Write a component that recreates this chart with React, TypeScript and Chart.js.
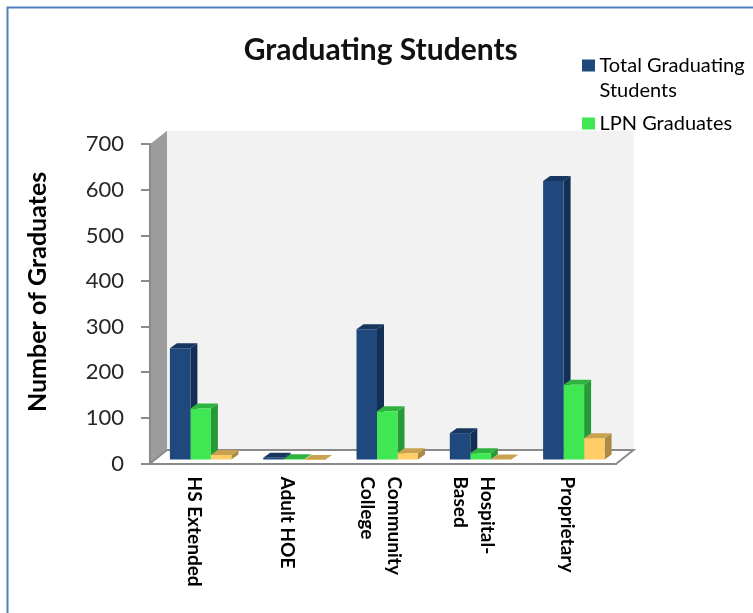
import React, { useEffect, useRef } from "react";
import { Chart, registerables } from "chart.js";

Chart.register(...registerables);

const categories = [["HS Extended"], ["Adult HOE"], ["Community", "College"], ["Hospital-", "Based"], ["Proprietary"]];
const totalGraduates = [246, 6, 288, 60, 613];
const lpnGraduates = [114, 3, 108, 16, 166];
const thirdSeries = [12, 1, 16, 2, 49];
const yTicks = [0, 100, 200, 300, 400, 500, 600, 700];
const legendLines = [["Total Graduating", "Students"], ["LPN Graduates"]];

const FONT = "Lato, 'Open Sans', sans-serif";
const FRONT = ["#1f497d", "#3fe853", "#ffcc66"];
const SIDE = ["#142f56", "#269a36", "#ab8a45"];
const TOP = ["#17375f", "#2fb33f", "#c9a24f"];
const SHIFT = { x: 4, y: -3 };
const DEPTH = { x: 7, y: 5 };
const WALL = { x: 17, y: 13.5 };
const GRAY = "#8a8a8a";

function poly(ctx: any, pts: number[][], fill: string) {
  ctx.beginPath();
  pts.forEach((p, i) => (i ? ctx.lineTo(p[0], p[1]) : ctx.moveTo(p[0], p[1])));
  ctx.closePath();
  ctx.fillStyle = fill;
  ctx.fill();
}

const scene3d = {
  id: "scene3d",
  beforeLayout(chart: any) {
    const lg = chart.legend;
    if (lg && !lg.__patched) {
      lg.__patched = true;
      const fit = lg.fit;
      lg.fit = function () {
        fit.call(this);
        this.width = 0;
      };
    }
  },
  afterLayout(chart: any) {
    const lg = chart.legend;
    lg.left = 579.5;
    lg.width = 173;
    lg.right = 753;
    lg.top = 47.5;
    lg.bottom = 170;
    const tb = chart.titleBlock;
    tb.left -= 2.5;
    tb.right -= 2.5;
    const yScale = chart.scales.y;
    if (!yScale.__shifted) {
      yScale.__shifted = true;
      const orig = yScale.drawTitle;
      yScale.drawTitle = function () {
        chart.ctx.save();
        chart.ctx.translate(0, -12);
        orig.call(this);
        chart.ctx.restore();
      };
    }
  },
  beforeDraw(chart: any) {
    const { ctx, chartArea: a } = chart;
    const { left: l, right: r, top: t, bottom: b } = a;
    ctx.save();
    ctx.strokeStyle = "#4f81bd";
    ctx.lineWidth = 2;
    ctx.strokeRect(7.5, 7.5, 900, 900);
    poly(ctx, [[l + WALL.x, t - WALL.y], [r + WALL.x, t - WALL.y], [r + WALL.x, b - WALL.y], [l + WALL.x, b - WALL.y]], "#f2f2f2");
    poly(ctx, [[l, t], [l + WALL.x, t - WALL.y], [l + WALL.x, b - WALL.y], [l, b]], "#9c9c9c");
    poly(ctx, [[l, b], [l + WALL.x, b - WALL.y], [r + WALL.x, b - WALL.y], [r, b]], "#ffffff");
    ctx.strokeStyle = GRAY;
    ctx.lineWidth = 2;
    ctx.beginPath();
    ctx.moveTo(l + WALL.x, b - WALL.y);
    ctx.lineTo(r + WALL.x, b - WALL.y);
    ctx.lineTo(r, b);
    ctx.moveTo(l, b);
    ctx.lineTo(l + WALL.x, b - WALL.y);
    ctx.stroke();
    ctx.restore();

    const x = chart.scales.x;
    const items = x.getLabelItems();
    items.forEach((item: any, i: number) => {
      if (item.__moved) return;
      item.__moved = true;
      const n = categories[i].length;
      item.options.textAlign = "left";
      item.options.translation[0] += -3 + ((n - 1) * 27) / 2;
    });
  },
  beforeDatasetsDraw(chart: any) {
    const ctx = chart.ctx;
    ctx.save();
    ctx.translate(SHIFT.x, SHIFT.y);
    chart.data.datasets.forEach((_: any, d: number) => {
      chart.getDatasetMeta(d).data.forEach((el: any) => {
        const { x, y, base, width } = el.getProps(["x", "y", "base", "width"], true);
        const lft = x - width / 2;
        const rgt = x + width / 2;
        poly(ctx, [[rgt, y], [rgt + DEPTH.x, y - DEPTH.y], [rgt + DEPTH.x, base - DEPTH.y], [rgt, base]], SIDE[d]);
        poly(ctx, [[lft, y], [lft + DEPTH.x, y - DEPTH.y], [rgt + DEPTH.x, y - DEPTH.y], [rgt, y]], TOP[d]);
      });
    });
  },
  afterDatasetsDraw(chart: any) {
    chart.ctx.restore();
  },
};

export default function App() {
  const ref = useRef<HTMLCanvasElement>(null);
  useEffect(() => {
    const chart = new Chart(ref.current as HTMLCanvasElement, {
      type: "bar",
      data: {
        labels: categories as any,
        datasets: [
          { label: "Total Graduating Students", data: totalGraduates, backgroundColor: FRONT[0], clip: false as any },
          { label: "LPN Graduates", data: lpnGraduates, backgroundColor: FRONT[1], clip: false as any },
          { label: "Other Graduates", data: thirdSeries, backgroundColor: FRONT[2], clip: false as any },
        ],
      },
      options: {
        responsive: false,
        animation: false,
        layout: { autoPadding: false, padding: { left: 0, right: 136.5, top: 0, bottom: 0 } },
        datasets: { bar: { barPercentage: 1, categoryPercentage: 0.659 } },
        plugins: {
          tooltip: { enabled: false },
          title: {
            display: true,
            text: "Graduating Students",
            color: "#111111",
            fullSize: false,
            font: { family: FONT, size: 30, weight: "bold", lineHeight: 1.2 },
            padding: { top: 32, bottom: 76.3 },
          },
          legend: {
            display: true,
            position: "right",
            align: "start",
            labels: {
              boxWidth: 2,
              boxHeight: 1,
              padding: 8,
              color: "#404040",
              font: { family: FONT, size: 20, lineHeight: 1.25 },
              generateLabels: (c: any) =>
                legendLines.map((text, i) => ({
                  text,
                  fillStyle: FRONT[i],
                  strokeStyle: FRONT[i],
                  lineWidth: 11,
                  hidden: false,
                  datasetIndex: i,
                })) as any,
            },
          },
        },
        scales: {
          x: {
            afterFit: (s: any) => {
              s.height = 149.5;
            },
            grid: { display: false },
            border: { display: true, color: GRAY, width: 2 },
            ticks: {
              autoSkip: false,
              minRotation: -90,
              maxRotation: -90,
              align: "start",
              padding: 5,
              color: "#000000",
              font: { family: FONT, size: 19, weight: "bold", lineHeight: 1.42 },
            },
          },
          y: {
            min: 0,
            max: 700,
            afterFit: (s: any) => {
              s.width = 150;
            },
            afterBuildTicks: (s: any) => {
              s.ticks = yTicks.map((value) => ({ value }));
            },
            grid: { drawOnChartArea: false, drawTicks: true, tickLength: 9, color: GRAY, lineWidth: 2 },
            border: { display: true, color: GRAY, width: 2 },
            ticks: {
              padding: 17,
              color: "#262626",
              font: { family: FONT, size: 22 },
            },
            title: {
              display: true,
              text: "Number of Graduates",
              color: "#000000",
              font: { family: FONT, size: 25, weight: "bold" },
              padding: { top: 23, bottom: 0 },
            },
          },
        },
      },
      plugins: [scene3d as any],
    });
    return () => chart.destroy();
  }, []);
  return (
    <div style={{ position: "fixed", left: 0, top: 0, width: 753, height: 613, background: "#fff" }}>
      <canvas ref={ref} width={753} height={613} style={{ display: "block" }} />
    </div>
  );
}
